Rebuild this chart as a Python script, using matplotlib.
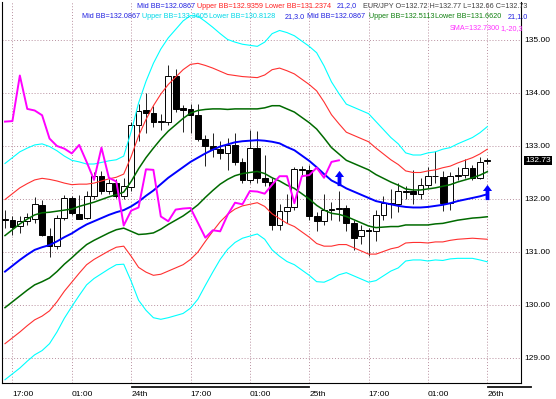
import numpy as np
import matplotlib.pyplot as plt
from matplotlib.path import Path
import matplotlib.transforms as mtransforms

plt.rcParams['font.family'] = ['Liberation Sans', 'DejaVu Sans']

# EUR/JPY hourly candles
opens = [131.63, 131.60, 131.49, 131.58, 131.62, 131.88, 131.30, 131.11, 131.65, 132.01,
         131.72, 131.65, 132.06, 132.44, 132.15, 132.31, 132.06, 132.22, 133.40, 133.68,
         133.62, 133.46, 133.46, 134.32, 133.71, 133.70, 133.58, 133.14, 133.00, 132.95,
         132.86, 133.02, 132.70, 132.36, 132.97, 132.40, 132.33, 131.50, 131.78, 131.84,
         132.56, 132.55, 131.67, 131.58, 131.80, 131.82, 131.83, 131.55, 131.30, 131.41,
         131.39, 131.70, 131.93, 131.90, 132.15, 132.15, 132.10, 132.27, 132.43, 132.42,
         131.92, 132.43, 132.45, 132.59, 132.40, 132.72]
highs = [131.80, 131.68, 131.68, 131.74, 132.03, 131.99, 131.46, 131.70, 132.08, 132.06,
         132.08, 132.15, 132.50, 132.52, 132.37, 132.38, 132.40, 133.45, 133.80, 134.00,
         133.75, 133.60, 134.52, 134.45, 133.77, 133.80, 133.79, 133.20, 133.25, 133.10,
         133.15, 133.25, 132.78, 133.30, 133.28, 132.83, 132.40, 131.90, 132.10, 132.60,
         132.62, 132.65, 131.75, 132.10, 131.95, 132.15, 131.88, 131.60, 131.50, 131.45,
         131.80, 132.05, 132.18, 132.30, 132.25, 132.55, 132.40, 132.60, 132.90, 132.53,
         132.50, 132.60, 132.75, 132.65, 132.80, 132.77]
lows = [131.46, 131.33, 131.36, 131.50, 131.55, 131.30, 130.90, 131.05, 131.60, 131.70,
        131.62, 131.62, 132.00, 132.10, 132.10, 132.02, 132.00, 132.15, 133.10, 133.25,
        133.35, 133.30, 133.40, 133.65, 133.27, 133.25, 133.10, 132.62, 132.80, 132.75,
        132.55, 132.65, 132.30, 132.30, 132.30, 132.25, 131.42, 131.42, 131.55, 131.80,
        132.45, 131.60, 131.40, 131.50, 131.60, 131.58, 131.40, 131.04, 131.15, 130.92,
        131.20, 131.60, 131.64, 131.75, 132.00, 131.90, 132.00, 132.20, 132.30, 131.77,
        131.80, 132.35, 132.40, 132.35, 132.38, 132.66]
closes = [131.61, 131.47, 131.58, 131.66, 131.90, 131.33, 131.11, 131.65, 132.01, 131.74,
          131.63, 132.06, 132.44, 132.15, 132.31, 132.06, 132.25, 133.40, 133.66, 133.62,
          133.46, 133.47, 134.33, 133.70, 133.67, 133.58, 133.14, 133.00, 132.95, 132.86,
          133.02, 132.70, 132.36, 132.97, 132.40, 132.33, 131.50, 131.78, 131.84, 132.56,
          132.55, 131.67, 131.58, 131.80, 131.82, 131.83, 131.55, 131.27, 131.41, 131.39,
          131.70, 131.93, 131.90, 132.15, 132.14, 132.10, 132.27, 132.43, 132.43, 131.92,
          132.43, 132.45, 132.59, 132.40, 132.70, 132.73]

# Bollinger middle line and standard deviation (21 periods)
bb_mid = [130.63, 130.74, 130.85, 130.95, 131.04, 131.09, 131.13, 131.20, 131.28, 131.35,
          131.44, 131.52, 131.58, 131.64, 131.70, 131.75, 131.79, 131.86, 131.95, 132.06,
          132.16, 132.28, 132.40, 132.50, 132.60, 132.70, 132.78, 132.86, 132.93, 132.99,
          133.03, 133.07, 133.09, 133.10, 133.11, 133.10, 133.08, 133.05, 132.98, 132.92,
          132.82, 132.72, 132.60, 132.47, 132.35, 132.28, 132.20, 132.14, 132.08, 132.02,
          131.96, 131.93, 131.90, 131.87, 131.85, 131.84, 131.84, 131.85, 131.87, 131.89,
          131.92, 131.96, 131.99, 132.02, 132.05, 132.09]
bb_sd = [0.68, 0.68, 0.68, 0.67, 0.66, 0.65, 0.62, 0.57, 0.51, 0.46,
         0.42, 0.38, 0.36, 0.35, 0.34, 0.33, 0.34, 0.47, 0.62, 0.72,
         0.80, 0.85, 0.88, 0.90, 0.92, 0.92, 0.89, 0.83, 0.77, 0.71,
         0.66, 0.63, 0.61, 0.60, 0.59, 0.62, 0.68, 0.71, 0.72, 0.72,
         0.72, 0.72, 0.72, 0.68, 0.62, 0.57, 0.53, 0.53, 0.53, 0.53,
         0.50, 0.46, 0.42, 0.39, 0.34, 0.33, 0.33, 0.34, 0.34, 0.35,
         0.35, 0.36, 0.37, 0.38, 0.40, 0.425]
sma_shift = 20

arrow_idx = [45, 65]
arrow_price = [132.40, 132.14]

time_ticks = [1, 9, 17, 25, 33, 41, 49, 57, 65]
time_labels = ['17:00', '01:00', '24th', '17:00', '01:00', '25th', '17:00', '01:00', '26th']
price_ticks = [129, 130, 131, 132, 133, 134, 135]

# values shown in the indicator captions
mid_val = 132.0867
bb2_vals = [132.9359, 131.2374]
bb3_vals = [133.3605, 130.8128]
bb1_vals = [132.5113, 131.6620]
ohlc_last = [132.72, 132.77, 132.66, 132.73]
sma_val = 132.7300

x = np.arange(len(closes))
o = np.array(opens); c = np.array(closes)
mid = np.array(bb_mid); sd = np.array(bb_sd)

fig = plt.figure(figsize=(5.56, 3.99), dpi=100)
ax = fig.add_axes([2/556, 16/399, 519/556, 381/399])
ax.set_xlim(-0.404, 69.54)
ax.set_ylim(128.528, 135.717)

# grid
ax.set_xticks(time_ticks)
ax.set_xticklabels(time_labels)
ax.set_yticks(price_ticks)
ax.yaxis.set_major_formatter('{x:.2f}')
ax.grid(True, color='#b8909f', linestyle=(0, (1, 2)), linewidth=0.7)
ax.yaxis.tick_right()
ax.tick_params(axis='y', length=0, pad=2.2, labelsize=6)
ax.tick_params(axis='x', length=0, pad=6, labelsize=6)
for lab in ax.get_xticklabels():
    lab.set_horizontalalignment('left')
ax.spines['top'].set_visible(False)
for s in ['left', 'right', 'bottom']:
    ax.spines[s].set_linewidth(0.8)

# candles
ax.vlines(x, lows, highs, color='#202020', linewidth=0.7, zorder=2)
up = c >= o
body_lo = np.minimum(o, c)
body_h = np.maximum(np.abs(c - o), 0.004)
ax.bar(x, body_h, bottom=body_lo, width=0.78,
       color=np.where(up, 'white', 'black'), edgecolor='black', linewidth=0.7, zorder=3)

# bollinger bands
ax.plot(x, mid + 3 * sd, color='#00ffff', linewidth=0.8, zorder=4)
ax.plot(x, mid - 3 * sd, color='#00ffff', linewidth=0.8, zorder=4)
ax.plot(x, mid + 2 * sd, color='#ff3030', linewidth=0.8, zorder=4)
ax.plot(x, mid - 2 * sd, color='#ff3030', linewidth=0.8, zorder=4)
ax.plot(x, mid + sd, color='#006a00', linewidth=1.1, zorder=4)
ax.plot(x, mid - sd, color='#006a00', linewidth=1.1, zorder=4)
ax.plot(x, mid, color='#0000ff', linewidth=1.4, zorder=4)

# close shifted back 20 bars
ax.plot(x[:-sma_shift], c[sma_shift:], color='#ff00ff', linewidth=1.4, zorder=5)

# signal arrows
arrow = Path([(0, 1), (0.6, 0.2), (0.25, 0.2), (0.25, -1), (-0.25, -1),
              (-0.25, 0.2), (-0.6, 0.2), (0, 1)],
             [Path.MOVETO] + [Path.LINETO] * 6 + [Path.CLOSEPOLY])
ax.scatter(arrow_idx, arrow_price, marker=arrow, s=120, color='#0000ff',
           linewidths=0, zorder=6)

# current price box
tr = mtransforms.blended_transform_factory(ax.transAxes, ax.transData)
ax.text(1.0 + 4/519, ohlc_last[3], f'{ohlc_last[3]:.2f}', transform=tr, color='white',
        fontsize=6, va='center', ha='left', zorder=7,
        bbox=dict(boxstyle='square,pad=0.15', fc='black', ec='none'), clip_on=False)

# day markers below the axis
trx = mtransforms.blended_transform_factory(ax.transData, ax.transAxes)
for a, b in [(time_ticks[2], time_ticks[5]), (time_ticks[8], 70.9)]:
    for yy in (-0.0066, -0.0118):
        ax.plot([a, b], [yy, yy], color='black', linewidth=0.6, transform=trx,
                clip_on=False)

# captions
def caption(px, py, text, color):
    fig.text(px / 556, 1 - py / 399, text, color=color, fontsize=5.2,
             ha='left', va='center')

blue = '#2020e0'
red = '#ff2020'
cyan = '#00d8e8'
green = '#108010'
mag = '#ff30ff'
caption(137, 6, f'Mid BB={mid_val:.4f}', blue)
caption(197, 6, f'Upper BB={bb2_vals[0]:.4f}', red)
caption(265, 6, f'Lower BB={bb2_vals[1]:.4f}', red)
caption(337, 6, '21,2,0', blue)
caption(363, 6, 'EUR/JPY O={:.2f} H={:.2f} L={:.2f} C={:.2f}'.format(*ohlc_last), '#404040')
caption(82, 17, f'Mid BB={mid_val:.4f}', blue)
caption(142, 17, f'Upper BB={bb3_vals[0]:.4f}', cyan)
caption(209, 17, f'Lower BB={bb3_vals[1]:.4f}', cyan)
caption(285, 17, '21,3.0', blue)
caption(307, 17, f'Mid BB={mid_val:.4f}', blue)
caption(369, 17, f'Upper BB={bb1_vals[0]:.4f}', green)
caption(435, 17, f'Lower BB={bb1_vals[1]:.4f}', green)
caption(508, 17, '21,1.0', blue)
caption(450, 29, f'SMA={sma_val:.4f}', mag)
caption(500, 29, '1,-20,3', mag)

fig.savefig('out.png', dpi=100)
